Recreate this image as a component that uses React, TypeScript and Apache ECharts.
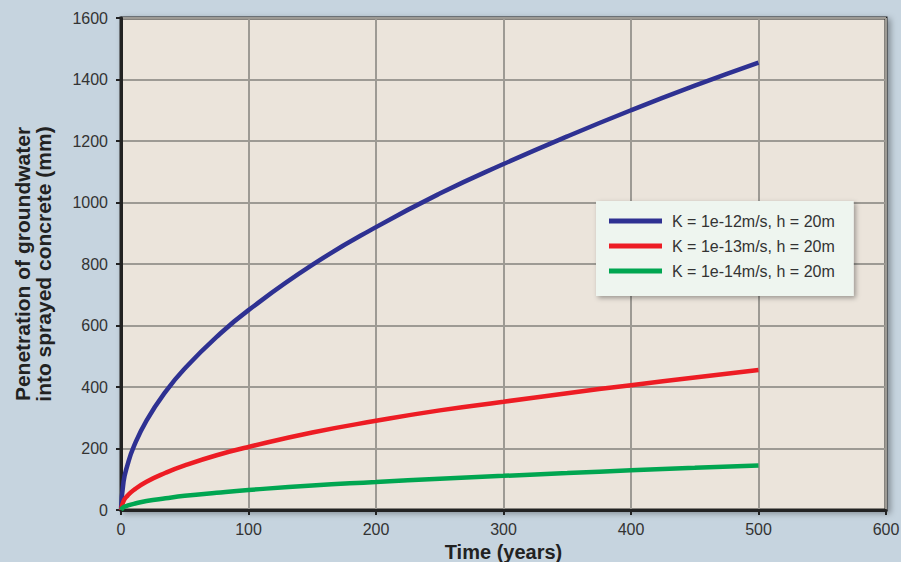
import React, { useEffect, useRef } from "react";
import * as echarts from "echarts";

const years = [0, 2, 5, 10, 20, 35, 50, 75, 100, 150, 200, 250, 300, 350, 400, 450, 500];
const k12 = [0, 92, 145, 206, 291, 385, 460, 563, 650, 797, 920, 1029, 1125, 1215, 1300, 1380, 1455];
const k13 = [0, 29, 46, 65, 92, 121, 145, 178, 205, 252, 290, 324, 352, 380, 406, 431, 455];
const k14 = [0, 9, 14, 20, 29, 38, 46, 56, 65, 80, 91, 102, 111, 120, 129, 137, 145];
const seriesNames = ["K = 1e-12m/s, h = 20m", "K = 1e-13m/s, h = 20m", "K = 1e-14m/s, h = 20m"];
const seriesColors = ["#2e3192", "#ed1c24", "#00a651"];

const FONT = '"Liberation Sans", Arial, Helvetica, sans-serif';

export default function App() {
  const ref = useRef<HTMLDivElement>(null);
  useEffect(() => {
    const chart = echarts.init(ref.current!, null, { renderer: "svg" });
    const values = [k12, k13, k14];
    chart.setOption({
      animation: false,
      backgroundColor: "#c6d4df",
      textStyle: { fontFamily: FONT },
      grid: {
        left: 121,
        right: 15,
        top: 18,
        bottom: 52,
        containLabel: false,
        outerBoundsMode: "none",
        show: true,
        backgroundColor: "#ebe4db",
        borderColor: "#222",
        borderWidth: 3,
        shadowColor: "rgba(0,0,0,0.35)",
        shadowBlur: 6,
        shadowOffsetX: 3,
        shadowOffsetY: 2,
      },
      legend: {
        orient: "vertical",
        left: 596,
        top: 201,
        icon: "rect",
        itemWidth: 53,
        itemHeight: 5,
        itemGap: 7,
        padding: [11, 19, 16, 13],
        backgroundColor: "#eef5ef",
        shadowColor: "rgba(0,0,0,0.35)",
        shadowBlur: 5,
        shadowOffsetX: 2,
        shadowOffsetY: 2,
        textStyle: { fontSize: 16, lineHeight: 18, color: "#333", fontFamily: FONT, padding: [0, 0, 0, 5] },
        data: seriesNames,
      },
      xAxis: {
        type: "value",
        min: 0,
        max: 600,
        interval: 100,
        name: "Time (years)",
        nameLocation: "middle",
        nameGap: 30,
        nameTextStyle: { fontSize: 20, fontWeight: "bold", color: "#222", fontFamily: FONT },
        axisLine: { show: true, lineStyle: { color: "#222", width: 3 } },
        axisTick: { show: true, length: 5, lineStyle: { color: "#222", width: 2 } },
        axisLabel: { fontSize: 16, color: "#333", margin: 11, formatter: (v: number) => String(v) },
        splitLine: { show: true, lineStyle: { color: "#9d9a94", width: 2 } },
      },
      yAxis: {
        type: "value",
        min: 0,
        max: 1600,
        interval: 200,
        name: "Penetration of groundwater\ninto sprayed concrete (mm)",
        nameLocation: "middle",
        nameGap: 67,
        nameTextStyle: { fontSize: 21, fontWeight: "bold", color: "#222", lineHeight: 21, fontFamily: FONT },
        axisLine: { show: true, lineStyle: { color: "#222", width: 3 } },
        axisTick: { show: true, length: 5, lineStyle: { color: "#222", width: 2 } },
        axisLabel: { fontSize: 16, color: "#333", margin: 13, formatter: (v: number) => String(v) },
        splitLine: { show: true, lineStyle: { color: "#9d9a94", width: 2 } },
      },
      series: seriesNames.map((name, i) => ({
        name,
        type: "line",
        smooth: true,
        showSymbol: false,
        symbol: "none",
        color: seriesColors[i],
        lineStyle: { color: seriesColors[i], width: 4.5 },
        data: years.map((y, j) => [y, values[i][j]]),
      })),
    });
    return () => chart.dispose();
  }, []);
  return <div ref={ref} style={{ position: "fixed", left: 0, top: 0, width: 901, height: 562 }} />;
}
